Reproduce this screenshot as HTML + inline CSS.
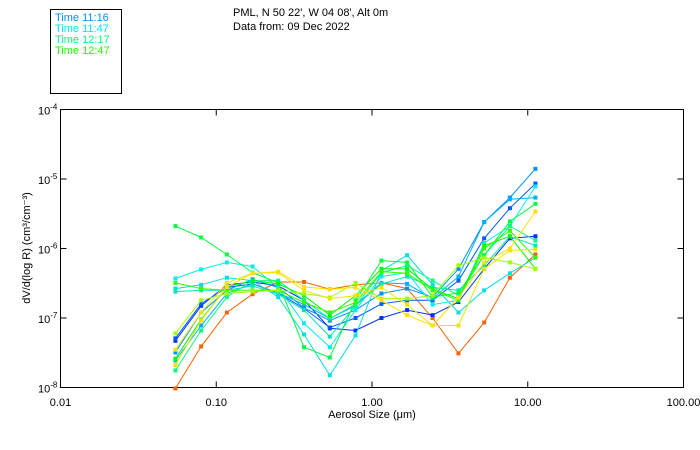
<!DOCTYPE html>
<html><head><meta charset="utf-8"><style>
body{margin:0;background:#fff;}
svg{display:block;font-family:"Liberation Sans",sans-serif;}
</style></head><body>
<svg id="chart" width="700" height="450" viewBox="0 0 700 450" xmlns="http://www.w3.org/2000/svg">
<rect width="700" height="450" fill="#fff"/>
<g>
<rect x="50.5" y="9.5" width="71" height="84" fill="none" stroke="#000"/>
<text x="55" y="21" font-size="11" fill="#0090ff">Time 11:16</text>
<text x="55" y="32" font-size="11" fill="#00e8e8">Time 11:47</text>
<text x="55" y="43" font-size="11" fill="#00ff80">Time 12:17</text>
<text x="55" y="54" font-size="11" fill="#20ff00">Time 12:47</text>
</g>
<text x="233" y="16" font-size="11">PML, N 50 22', W 04 08', Alt 0m</text>
<text x="233" y="30" font-size="11">Data from: 09 Dec 2022</text>
<rect x="60.5" y="109.5" width="623" height="278" fill="none" stroke="#000"/>
<g id="axes"></g>
<g id="series"></g>
<text x="372" y="418" font-size="11" text-anchor="middle">Aerosol Size (μm)</text>
<text transform="translate(30,248) rotate(-90)" font-size="11" text-anchor="middle">dV/d(log R) (cm³/cm⁻³)</text>
</svg>
<script>
const sizes=[0.0547,0.0800,0.117,0.171,0.250,0.366,0.536,0.784,1.15,1.68,2.45,3.59,5.25,7.68,11.2];
const xTickVals=[0.01,0.1,1,10,100];
const xTickLabels=["0.01","0.10","1.00","10.00","100.00"];
const yTickExps=[-4,-5,-6,-7,-8];
const colors=["#ff6000","#0030ff","#0058ff","#0090ff","#00b0ff","#00e0e0","#00f0f0","#00e8b8","#00ff80","#00ff40","#00ff00","#30ff00","#a0ff00","#e8e800","#ffe000"];
const s1=[9.7e-9,3.9e-8,1.2e-7,2.2e-7,3.3e-7,3.3e-7,2.6e-7,3.0e-7,3.2e-7,2.65e-7,1.0e-7,3.1e-8,8.6e-8,3.8e-7,8.2e-7];
const s2=[4.7e-8,1.5e-7,3.0e-7,3.3e-7,2.9e-7,1.8e-7,7.1e-8,6.6e-8,1.0e-7,1.3e-7,1.1e-7,1.7e-7,5.1e-7,1.4e-6,1.5e-6];
const s3=[5.1e-8,1.6e-7,2.75e-7,3.1e-7,2.3e-7,1.37e-7,7.3e-8,1.0e-7,1.6e-7,1.8e-7,1.8e-7,3.45e-7,1.4e-6,3.8e-6,8.6e-6];
const s4=[3.2e-8,1.2e-7,2.5e-7,3.6e-7,2.75e-7,1.4e-7,9.2e-8,1.3e-7,2.25e-7,2.65e-7,2.0e-7,5.1e-7,2.4e-6,5.4e-6,1.4e-5];
const s5=[2.45e-8,7.8e-8,2.25e-7,3.1e-7,2.3e-7,1.56e-7,9.8e-8,1.56e-7,3.2e-7,3.1e-7,1.9e-7,3.95e-7,2.4e-6,5.1e-6,5.4e-6];
const s6=[2.65e-7,3.0e-7,3.8e-7,3.45e-7,2.0e-7,5.8e-8,1.5e-8,5.6e-8,4.8e-7,8.0e-7,3.0e-7,1.2e-7,2.5e-7,4.4e-7,7.4e-7];
const s7=[3.7e-7,5.0e-7,6.3e-7,5.5e-7,2.75e-7,8.4e-8,3.8e-8,1.3e-7,3.95e-7,4.5e-7,1.56e-7,1.8e-7,1.2e-6,2.1e-6,7.8e-6];
const s8=[2.4e-7,2.5e-7,2.5e-7,2.9e-7,2.2e-7,1.3e-7,5.4e-8,1.5e-7,3.1e-7,3.95e-7,2.75e-7,2.5e-7,5.7e-7,1.5e-6,1.1e-6];
const s9=[1.76e-8,6.6e-8,2.0e-7,3.45e-7,3.45e-7,1.8e-7,9.8e-8,1.5e-7,4.5e-7,5.7e-7,3.45e-7,2.1e-7,8.0e-7,2.1e-6,1.3e-6];
const s10=[2.1e-6,1.44e-6,8.2e-7,4.5e-7,3.2e-7,3.8e-8,2.7e-8,1.8e-7,6.7e-7,6.3e-7,2.0e-7,2.3e-7,8.0e-7,2.45e-6,4.4e-6];
const s11=[2.6e-8,9.5e-8,2.8e-7,3.45e-7,3.1e-7,2.1e-7,1.1e-7,2.1e-7,5.1e-7,5.1e-7,2.6e-7,1.9e-7,1.1e-6,1.5e-6,5.1e-7];
const s12=[3.2e-7,2.65e-7,2.5e-7,2.5e-7,2.5e-7,1.67e-7,1.2e-7,1.67e-7,4.65e-7,4.4e-7,2.5e-7,1.8e-7,1.0e-6,1.8e-6,7.4e-7];
const s13=[6.0e-8,1.8e-7,2.25e-7,2.4e-7,2.5e-7,2.25e-7,1.97e-7,3.2e-7,1.9e-7,1.9e-7,2.1e-7,5.7e-7,7.4e-7,6.3e-7,5.1e-7];
const s14=[3.5e-8,1.2e-7,3.2e-7,4.4e-7,4.5e-7,2.5e-7,1.9e-7,2.1e-7,2.75e-7,1.56e-7,7.8e-8,7.8e-8,5.1e-7,9.4e-7,9.7e-7];
const s15=[2.1e-8,9.2e-8,2.8e-7,4.4e-7,4.65e-7,2.8e-7,2.6e-7,2.75e-7,1.8e-7,1.1e-7,7.8e-8,1.97e-7,6.3e-7,1.0e-6,3.4e-6];
const seriesList=[s1,s2,s3,s4,s5,s6,s7,s8,s9,s10,s11,s12,s13,s14,s15];

const NS="http://www.w3.org/2000/svg";
const X0=60.5,X1=683.5,Y0=109.5,Y1=387.5;
function xScale(v){return X0+(Math.log10(v)+2)/4*(X1-X0);}
function yScale(v){return Y0+(-4-Math.log10(v))/4*(Y1-Y0);}
function mk(tag,attrs,parent){const e=document.createElementNS(NS,tag);for(const k in attrs)e.setAttribute(k,attrs[k]);parent.appendChild(e);return e;}
const axes=document.getElementById('axes');
xTickVals.forEach((v,i)=>{
  const x=xScale(v);
  const t1=mk('line',{x1:x,x2:x,y1:Y1,y2:Y1-6,stroke:'#000'},axes);
  
  
  const t2=mk('line',{x1:x,x2:x,y1:Y0,y2:Y0+6,stroke:'#000'},axes);
  
  
  const lb=mk('text',{x:x,y:406,'font-size':11,'text-anchor':'middle'},axes);
  lb.textContent=xTickLabels[i];
  
  
});
yTickExps.forEach(e=>{
  const y=yScale(Math.pow(10,e));
  const t1=mk('line',{x1:X0,x2:X0+6,y1:y,y2:y,stroke:'#000'},axes);
  
  
  const t2=mk('line',{x1:X1,x2:X1-6,y1:y,y2:y,stroke:'#000'},axes);
  
  
  const lb=mk('text',{x:38,y:y+5,'font-size':11},axes);
  
  
  lb.textContent='10';
  const sup=mk('tspan',{dy:-5,'font-size':8},lb);
  sup.textContent=String(e);
});
const sg=document.getElementById('series');
seriesList.forEach((s,i)=>{
  const g=mk('g',{},sg);
  
  
  const pts=s.map((v,j)=>xScale(sizes[j]).toFixed(1)+','+yScale(v).toFixed(1)).join(' ');
  const pl=mk('polyline',{points:pts,fill:'none',stroke:colors[i],'stroke-width':1},g);
  
  
  s.forEach((v,j)=>{
    const r=mk('rect',{x:xScale(sizes[j])-2,y:yScale(v)-2,width:4,height:4,fill:colors[i]},g);
    
    
  });
});
</script>
</body></html>
